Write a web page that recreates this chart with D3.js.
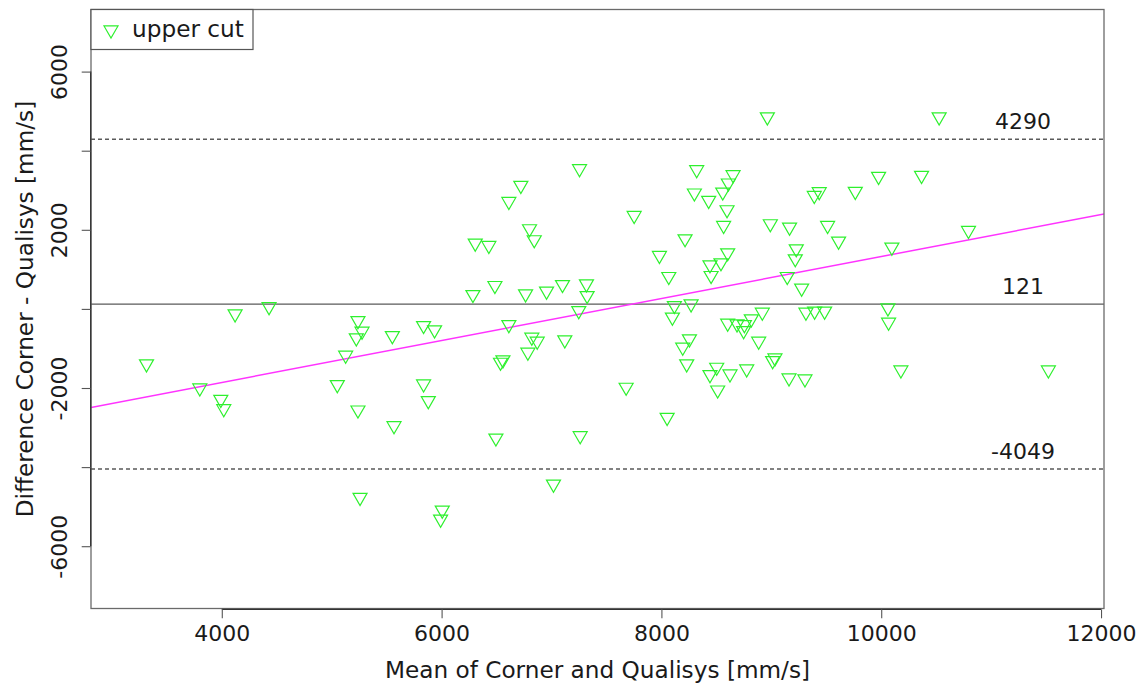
<!DOCTYPE html>
<html>
<head>
<meta charset="utf-8">
<script src="https://cdn.jsdelivr.net/npm/d3@7"></script>
<style>
  html, body { margin: 0; padding: 0; background: #fff; }
  svg { display: block; }
  text { font-family: "DejaVu Sans", sans-serif; fill: #1a1a1a; }
</style>
</head>
<body>
<svg id="chart" width="1147" height="685"></svg>
<script>
// ---- data ----
const meanValues = [
  3315, 4121, 4430, 5239, 5276, 5224, 5127, 3800, 3991, 4018, 5051, 5239,
  7255, 6721, 6612, 7752, 6800, 6843, 6306, 6430, 8215, 7982, 8067, 6285,
  6485, 6764, 6955, 7100, 7318, 7324, 7248, 8118, 8100, 5552, 5836, 5936,
  6612, 6821, 6870, 7121, 6785, 6558, 6536, 8194, 8255, 8230, 5836, 5879,
  5567, 6494, 7261, 7679, 8052, 7018, 5258, 6006, 5991,
  8964, 8321, 8652, 8609, 8300, 8558, 8430, 8597, 8566, 8991, 9166, 9512,
  9612, 8603, 8542, 8442, 8452, 9227, 9218, 9145, 9276, 10097, 8270, 8918,
  8818, 8755, 8603, 8688, 8748, 9315, 9394, 9485, 10061, 10067, 8885, 9033,
  9012, 8503, 8442, 8624, 8776, 9161, 9306, 8512, 9391, 9436,
  10527, 9976, 10367, 9764, 10794, 10179, 11521
];
const diffValues = [
  -1392, -127, 58, -296, -565, -734, -1172, -2000, -2287, -2524, -1916, -2557,
  3544, 3122, 2716, 2362, 2025, 1747, 1663, 1603, 1772, 1350, 818, 362,
  590, 380, 448, 615, 633, 337, -43, 84, -210, -676, -422, -532,
  -397, -717, -818, -785, -1096, -1291, -1350, -970, -759, -1392, -1899, -2321,
  -2954, -3266, -3207, -1982, -2742, -4430, -4767, -5089, -5316,
  4853, 3519, 3392, 3182, 2929, 2954, 2742, 2506, 2109, 2152, 2068, 2109,
  1714, 1418, 1165, 1114, 843, 1519, 1266, 818, 524, 1562, 127, -84,
  -253, -397, -362, -380, -549, -84, -58, -58, 25, -337, -818, -1241,
  -1308, -1476, -1663, -1646, -1519, -1747, -1772, -2051, 2868, 2962,
  4853, 3349, 3375, 2970, 1982, -1544, -1544
];
const refLines = [4290, 121, -4049];          // upper LoA, mean, lower LoA
const refLineLabels = ["4290", "121", "-4049"];
const refLineDashed = [true, false, true];
const refLabelX = 11290;
const regression = [-3983, 0.5307];             // intercept, slope
const xTicks = [4000, 6000, 8000, 10000, 12000];
const yTicks = [-6000, -4000, -2000, 0, 2000, 4000, 6000];
const yTickLabels = ["-6000", "", "-2000", "", "2000", "", "6000"];
const legendLabels = ["upper cut"];
const xTitle = "Mean of Corner and Qualisys [mm/s]";
const yTitle = "Difference Corner - Qualisys [mm/s]";

// ---- layout ----
const pLeft = 91, pRight = 1104, pTop = 9.5, pBottom = 608.5;
const green = "#2ef02e", magenta = "#ff33ff", grey = "#5a5a5a";
const numSize = 22, titleSize = 23.2;

const svg = d3.select("#chart");
const x = d3.scaleLinear().domain([2810, 12027]).range([pLeft, pRight]);
const y = d3.scaleLinear().domain([-7575, 7570]).range([pBottom, pTop]);

// down-pointing triangle (R pch 6) centred at (cx, cy)
const half = 7, rr = half / 0.866, yc = rr / 2;
function triPath(cx, cy) {
  return `M${cx - half},${cy - yc}L${cx + half},${cy - yc}L${cx},${cy + rr}Z`;
}

svg.append("defs").append("clipPath").attr("id", "clip")
  .append("rect").attr("x", pLeft).attr("y", pTop).attr("width", pRight - pLeft).attr("height", pBottom - pTop);
const plot = svg.append("g");

// reference lines
plot.selectAll("line.ref").data(refLines).enter().append("line")
  .attr("class", "ref")
  .attr("x1", pLeft).attr("x2", pRight)
  .attr("y1", d => y(d)).attr("y2", d => y(d))
  .attr("stroke", grey).attr("stroke-width", 1.4)
  .attr("stroke-dasharray", (d, i) => refLineDashed[i] ? "4,3" : null);

plot.selectAll("text.ref").data(refLines).enter().append("text")
  .attr("class", "ref")
  .attr("x", x(refLabelX)).attr("y", d => y(d) - 10.5)
  .attr("text-anchor", "middle").attr("font-size", numSize)
  .text((d, i) => refLineLabels[i]);

// regression line
const xd = x.domain();
plot.append("line")
  .attr("clip-path", "url(#clip)")
  .attr("x1", x(xd[0])).attr("x2", x(xd[1]))
  .attr("y1", y(regression[0] + regression[1] * xd[0]))
  .attr("y2", y(regression[0] + regression[1] * xd[1]))
  .attr("stroke", magenta).attr("stroke-width", 1.5);

// points
const pts = meanValues.map((m, i) => [m, diffValues[i]]);
plot.selectAll("path.pt").data(pts).enter().append("path")
  .attr("class", "pt")
  .attr("d", d => triPath(x(d[0]), y(d[1])))
  .attr("fill", "none").attr("stroke", green).attr("stroke-width", 1.2);

// box
svg.append("rect").attr("x", pLeft).attr("y", pTop)
  .attr("width", pRight - pLeft).attr("height", pBottom - pTop)
  .attr("fill", "none").attr("stroke", "#6a6a6a").attr("stroke-width", 1.3);

// x axis
const xAxis = d3.axisBottom(x).tickValues(xTicks).tickSize(9).tickPadding(7).tickFormat(d3.format("d"));
const gx = svg.append("g").attr("transform", `translate(0,${pBottom + 0.8})`).call(xAxis);
gx.select(".domain").attr("d", `M${x(xTicks[0])},0H${x(xTicks[xTicks.length - 1])}`)
  .attr("stroke", "#333").attr("stroke-width", 1.3);
gx.selectAll(".tick line").attr("stroke", "#555").attr("stroke-width", 1.1);
gx.selectAll(".tick text").attr("font-size", numSize).attr("font-family", "DejaVu Sans").attr("fill", "#1a1a1a");

// y axis
const yAxis = d3.axisLeft(y).tickValues(yTicks).tickSize(9).tickFormat((d, i) => yTickLabels[i]);
const gy = svg.append("g").attr("transform", `translate(${pLeft - 0.3},0)`).call(yAxis);
gy.select(".domain").attr("d", `M0,${y(yTicks[0])}V${y(yTicks[yTicks.length - 1])}`)
  .attr("stroke", "#333").attr("stroke-width", 1.3);
gy.selectAll(".tick line").attr("stroke", "#555").attr("stroke-width", 1.1);
gy.selectAll(".tick text")
  .attr("font-size", numSize).attr("font-family", "DejaVu Sans").attr("fill", "#1a1a1a")
  .attr("x", null).attr("dy", null)
  .attr("text-anchor", "middle")
  .attr("transform", "translate(-24,0) rotate(-90)");

// axis titles
svg.append("text").attr("x", (pLeft + pRight) / 2).attr("y", 678)
  .attr("text-anchor", "middle").attr("font-size", titleSize).text(xTitle);
svg.append("text")
  .attr("transform", `translate(33,${(pTop + pBottom) / 2}) rotate(-90)`)
  .attr("text-anchor", "middle").attr("font-size", titleSize).text(yTitle);

// legend
const lg = svg.append("g");
lg.append("rect").attr("x", pLeft).attr("y", pTop).attr("width", 162).attr("height", 40)
  .attr("fill", "#fff").attr("stroke", "#555").attr("stroke-width", 1.2);
lg.selectAll("path.lg").data(legendLabels).enter().append("path")
  .attr("d", (d, i) => triPath(111, 30 + i * 30))
  .attr("fill", "none").attr("stroke", green).attr("stroke-width", 1.2);
lg.selectAll("text.lg").data(legendLabels).enter().append("text")
  .attr("x", 132).attr("y", (d, i) => 37 + i * 30)
  .attr("font-size", titleSize).text(d => d);
</script>
</body>
</html>
